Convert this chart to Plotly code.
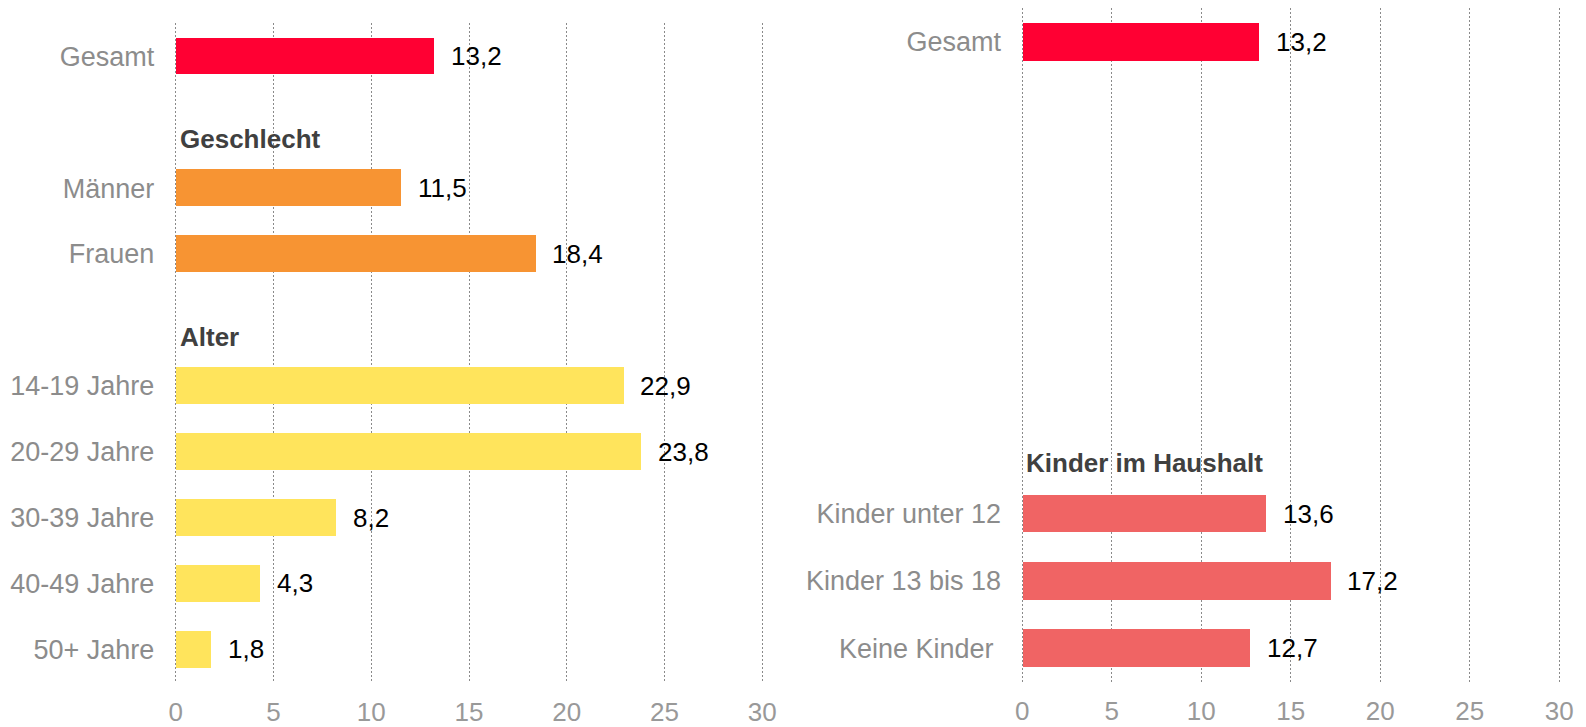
import plotly.graph_objects as go

# ---------------- data ----------------
left_total_label = "Gesamt"
left_total_value = 13.2
gender_header = "Geschlecht"
gender_labels = ["Männer", "Frauen"]
gender_values = [11.5, 18.4]
age_header = "Alter"
age_labels = ["14-19 Jahre", "20-29 Jahre", "30-39 Jahre", "40-49 Jahre", "50+ Jahre"]
age_values = [22.9, 23.8, 8.2, 4.3, 1.8]

right_total_label = "Gesamt"
right_total_value = 13.2
kids_header = "Kinder im Haushalt"
kids_labels = ["Kinder unter 12", "Kinder 13 bis 18", "Keine Kinder\u00a0"]
kids_values = [13.6, 17.2, 12.7]

x_ticks = [0, 5, 10, 15, 20, 25, 30]

# ---------------- style ----------------
C_TOTAL = "#FF0033"
C_GENDER = "#F79433"
C_AGE = "#FFE45C"
C_KIDS = "#F06464"
FONT = "Liberation Sans, Arial, sans-serif"
FS = 26
FS_CAT = 27
LABEL_GRAY = "#8C8C8C"
HEAD_GRAY = "#404040"
N_SLOTS = 10
BAR_W = 0.56
PAD = 0.1  # small range padding so edge gridlines are drawn

W, H = 1586, 727

fig = go.Figure()

def add_panel(xa, ya, entries, headers):
    fig.add_trace(go.Bar(
        x=[e[2] for e in entries], y=[e[0] for e in entries],
        orientation="h", marker=dict(color=[e[3] for e in entries], line=dict(width=0)),
        width=BAR_W, xaxis=xa, yaxis=ya, showlegend=False, hoverinfo="skip",
    ))
    for slot, label, value, color in entries:
        fig.add_annotation(
            x=value, y=slot, xref=xa, yref=ya, text=f"{value:.1f}".replace(".", ","),
            showarrow=False, xanchor="left", yanchor="middle", xshift=15,
            font=dict(family=FONT, size=FS, color="#000000"),
        )
    for slot, text in headers:
        fig.add_annotation(
            x=0, y=slot, xref=xa, yref=ya, text=f"<b>{text}</b>",
            showarrow=False, xanchor="left", yanchor="middle", xshift=2, yshift=-17,
            font=dict(family=FONT, size=FS, color=HEAD_GRAY),
        )
    return [e[0] for e in entries], [e[1] for e in entries]

left_entries = []
left_headers = []
slot = 0
left_entries.append((slot, left_total_label, left_total_value, C_TOTAL)); slot += 1
left_headers.append((slot, gender_header)); slot += 1
for l, v in zip(gender_labels, gender_values):
    left_entries.append((slot, l, v, C_GENDER)); slot += 1
left_headers.append((slot, age_header)); slot += 1
for l, v in zip(age_labels, age_values):
    left_entries.append((slot, l, v, C_AGE)); slot += 1

right_entries = [(0, right_total_label, right_total_value, C_TOTAL)]
start = N_SLOTS - 1 - len(kids_labels)
right_headers = [(start, kids_header)]
for i, (l, v) in enumerate(zip(kids_labels, kids_values)):
    right_entries.append((start + 1 + i, l, v, C_KIDS))

lt_vals, lt_text = add_panel("x", "y", left_entries, left_headers)
rt_vals, rt_text = add_panel("x2", "y2", right_entries, right_headers)

xcommon = dict(
    range=[-PAD, 30 + PAD], tickvals=x_ticks, showgrid=True, gridcolor="#8A8A8A",
    griddash="2px,2px", gridwidth=1, zeroline=False, showline=False, ticks="outside",
    ticklen=6, tickcolor="rgba(0,0,0,0)", tickfont=dict(family=FONT, size=FS, color="#999999"),
    fixedrange=True, automargin=False,
)
ycommon = dict(
    range=[N_SLOTS - 0.5, -0.5], showgrid=False, zeroline=False, showline=False,
    ticks="outside", ticklen=13, tickcolor="rgba(0,0,0,0)",
    tickfont=dict(family=FONT, size=FS_CAT, color=LABEL_GRAY), fixedrange=True, automargin=False,
)

def xdom(x0, x30):
    u = (x30 - x0) / 30.0
    return [(x0 - PAD * u) / W, (x30 + PAD * u) / W]

fig.update_layout(
    width=W, height=H, margin=dict(l=0, r=0, t=0, b=0),
    paper_bgcolor="white", plot_bgcolor="white",
    xaxis=dict(domain=xdom(175.7, 762.3), anchor="y", **xcommon),
    yaxis=dict(domain=[1 - 682.3 / H, 1 - 23.3 / H], anchor="x",
               tickvals=lt_vals, ticktext=lt_text, **ycommon),
    xaxis2=dict(domain=xdom(1022.3, 1559.3), anchor="y2", **xcommon),
    yaxis2=dict(domain=[1 - 682 / H, 1 - 8 / H], anchor="x2",
                tickvals=rt_vals, ticktext=rt_text, **ycommon),
    bargap=0,
)

fig.write_html(
    "out.html",
    config={"displayModeBar": False},
    post_script="document.body.style.margin='0';document.body.style.overflow='hidden';",
)
